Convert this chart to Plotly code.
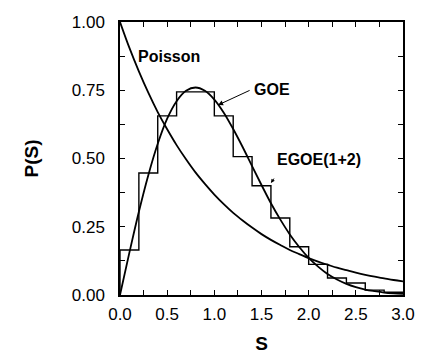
import plotly.graph_objects as go

s_curve = [0.0, 0.1, 0.2, 0.3, 0.4, 0.5, 0.6, 0.7, 0.8, 0.9, 1.0, 1.1, 1.2, 1.3, 1.4, 1.5,
           1.6, 1.7, 1.8, 1.9, 2.0, 2.1, 2.2, 2.3, 2.4, 2.5, 2.6, 2.7, 2.8, 2.9, 3.0]
poisson_vals = [1.00, 0.905, 0.819, 0.741, 0.670, 0.607, 0.549, 0.497, 0.449, 0.407, 0.368,
                0.333, 0.301, 0.273, 0.247, 0.223, 0.202, 0.183, 0.165, 0.150, 0.135, 0.122,
                0.111, 0.100, 0.091, 0.082, 0.074, 0.067, 0.061, 0.055, 0.050]
goe_vals = [0.0, 0.156, 0.305, 0.439, 0.554, 0.646, 0.710, 0.748, 0.760, 0.748, 0.716,
            0.668, 0.608, 0.542, 0.472, 0.403, 0.336, 0.276, 0.222, 0.176, 0.136, 0.104,
            0.077, 0.057, 0.041, 0.029, 0.020, 0.014, 0.009, 0.006, 0.004]

# EGOE(1+2) histogram (bin width 0.2)
bin_edges = [0.0, 0.2, 0.4, 0.6, 0.8, 1.0, 1.2, 1.4, 1.6, 1.8, 2.0, 2.2, 2.4, 2.6, 2.8, 3.0]
egoe_hist = [0.165, 0.447, 0.656, 0.744, 0.744, 0.656, 0.507, 0.400, 0.282, 0.177,
             0.112, 0.062, 0.044, 0.018, 0.010]

x_tickvals = [0.0, 0.25, 0.5, 0.75, 1.0, 1.25, 1.5, 1.75, 2.0, 2.25, 2.5, 2.75, 3.0]
x_ticktext = ["0.0", "", "0.5", "", "1.0", "", "1.5", "", "2.0", "", "2.5", "", "3.0"]
y_tickvals = [0.0, 0.125, 0.25, 0.375, 0.5, 0.625, 0.75, 0.875, 1.0]
y_ticktext = ["0.00", "", "0.25", "", "0.50", "", "0.75", "", "1.00"]

FONT = "Liberation Sans, Arial, sans-serif"

fig = go.Figure()
fig.add_trace(go.Scatter(x=s_curve, y=poisson_vals, mode="lines",
                         line=dict(color="black", width=1.8, shape="spline")))
fig.add_trace(go.Scatter(x=s_curve, y=goe_vals, mode="lines",
                         line=dict(color="black", width=1.8, shape="spline")))
fig.add_trace(go.Scatter(x=[0.0] + bin_edges, y=[0.0] + egoe_hist + [egoe_hist[-1]],
                         mode="lines", line=dict(color="black", width=1.4, shape="hv")))

fig.add_annotation(x=0.52, y=0.873, text="<b>Poisson</b>", showarrow=False,
                   font=dict(family=FONT, size=16, color="black"))
fig.add_annotation(x=1.61, y=0.751, text="<b>GOE</b>", showarrow=False,
                   font=dict(family=FONT, size=16, color="black"))
fig.add_annotation(x=1.04, y=0.696, ax=1.39, ay=0.752, axref="x", ayref="y",
                   text="", showarrow=True, arrowhead=2, arrowsize=1, arrowwidth=1,
                   arrowcolor="black")
fig.add_annotation(x=2.11, y=0.498, text="<b>EGOE(1+2)</b>", showarrow=False,
                   font=dict(family=FONT, size=16, color="black"))
fig.add_annotation(x=1.60, y=0.41, ax=4, ay=-6, text="", showarrow=True, arrowhead=2,
                   arrowsize=0.8, arrowwidth=1, arrowcolor="black")

axis_common = dict(showgrid=False, zeroline=False, showline=True, linecolor="black",
                   linewidth=1.5, mirror="ticks", ticks="inside", ticklen=5,
                   tickwidth=1.2, tickcolor="black", automargin=False,
                   tickfont=dict(family=FONT, size=17, color="black"))

fig.update_layout(
    width=423, height=354,
    margin=dict(l=120, r=20, t=22, b=59),
    paper_bgcolor="white", plot_bgcolor="white",
    showlegend=False,
    xaxis=dict(range=[0, 3.0], tickvals=x_tickvals, ticktext=x_ticktext,
               ticklabelstandoff=3,
               title=dict(text="<b>S</b>", font=dict(family=FONT, size=19, color="black"),
                          standoff=14),
               **axis_common),
    yaxis=dict(range=[0, 1.0], tickvals=y_tickvals, ticktext=y_ticktext,
               ticklabelstandoff=10,
               title=dict(text="<b>P(S)</b>", font=dict(family=FONT, size=19, color="black"),
                          standoff=28),
               **axis_common),
)

fig.write_html("out.html")
